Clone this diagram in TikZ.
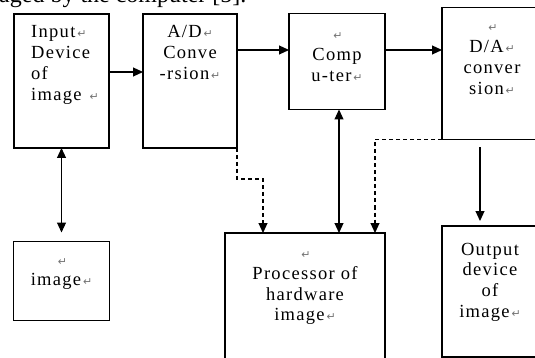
\documentclass[tikz,border=0pt]{standalone}
\usepackage{fontspec}
\setmainfont{Liberation Serif}
\newfontfamily\boxfont[LetterSpace=7]{Liberation Serif}
\newfontfamily\retfont{DejaVu Sans}
\usetikzlibrary{arrows.meta, positioning, calc}
% paragraph mark as shown by the word processor
\newcommand{\ret}{{\retfont\fontsize{11}{11}\selectfont\color{black!55}\,↵}}

\begin{document}
\begin{tikzpicture}[x=1pt, y=-1pt,
      blockbox/.style={
         rectangle,
         draw=black,
         line width=1.2pt,
         anchor=north west,
         inner sep=0pt,
         outer sep=0pt},
      blocktext/.style={
         font=\boxfont\fontsize{18.5}{20.8}\selectfont,
         inner sep=0pt,
         anchor=base,
         align=center,
         text width=90pt},
      myarrow/.style={line width=1.1pt, -{Triangle[length=10pt,width=9pt]}},
      dblarrow/.style={line width=1.1pt, {Triangle[length=10pt,width=9pt]}-{Triangle[length=10pt,width=9pt]}},
      dasharrow/.style={myarrow, dash pattern=on 4pt off 3pt}
      ]
      \clip (0,0) rectangle (535,358);

      % end of the sentence above the figure
      \node[anchor=base west, inner sep=0pt, font=\fontsize{24}{24}\selectfont] (caption) at (-1,2.5) {aged by the computer [5].};

      \node[blockbox, minimum width=95pt, minimum height=134pt] (input) at (14,14) {};
      \node[blockbox, minimum width=94pt, minimum height=134pt] (adc) at (143,14) {};
      \node[blockbox, minimum width=96pt, minimum height=96pt] (comp) at (289,13.5) {};
      \node[blockbox, minimum width=98pt, minimum height=132pt] (dac) at (442,7.5) {};
      \node[blockbox, minimum width=96pt, minimum height=79pt] (img) at (13.5,241.5) {};
      \node[blockbox, minimum width=160pt, minimum height=140pt] (proc) at (225,233) {};
      \node[blockbox, minimum width=98pt, minimum height=131pt] (out) at (442,226) {};

      \node[blocktext, align=left, anchor=base west] (input-txt) at (31,38) {Input\ret\\ Device\\ of\\ image \ret};
      \node[blocktext] (adc-txt) at (190,38) {A/D\ret\\ Conve\\ -rsion\ret};
      \node[blocktext] (comp-txt) at (337,40) {\ret\\ Comp\\ u-ter\ret};
      \node[blocktext] (dac-txt) at (492,32) {\ret\\ D/A\ret\\ conver\\ sion\ret};
      \node[blocktext] (img-txt) at (61.5,265) {\ret\\ image\ret};
      \node[blocktext, text width=140pt] (proc-txt) at (305,258.5) {\ret\\ Processor of\\ hardware\\ image\ret};
      \node[blocktext] (out-txt) at (490,255) {Output\\ device\\ of\\ image\ret};

      \draw[myarrow] ([yshift=9pt]input.east) -- ([yshift=9pt]adc.west);
      \draw[myarrow] ([yshift=11.5pt]comp.west -| adc.east) -- ([yshift=11.5pt]comp.west);
      \draw[myarrow] ([yshift=11.5pt]comp.east) -- ([yshift=11.5pt]comp.east -| dac.west);
      \draw[myarrow] ([xshift=-11pt,yshift=-8pt]dac.south) -- ([xshift=-11pt,yshift=5pt]out.north);

      \draw[dblarrow, shorten >=9pt] (input.south) -- (img.north);
      \draw[dblarrow] ([xshift=2pt]comp.south) -- ([xshift=2pt]comp.south |- proc.north);

      % dashed links into the hardware processor
      \coordinate (bend) at (263,179);
      \draw[dasharrow] (adc.south east) |- (bend) -- (bend |- proc.north);
      \draw[dasharrow] (dac.south west) -| ([xshift=70pt]proc.north);
\end{tikzpicture}
\end{document}
